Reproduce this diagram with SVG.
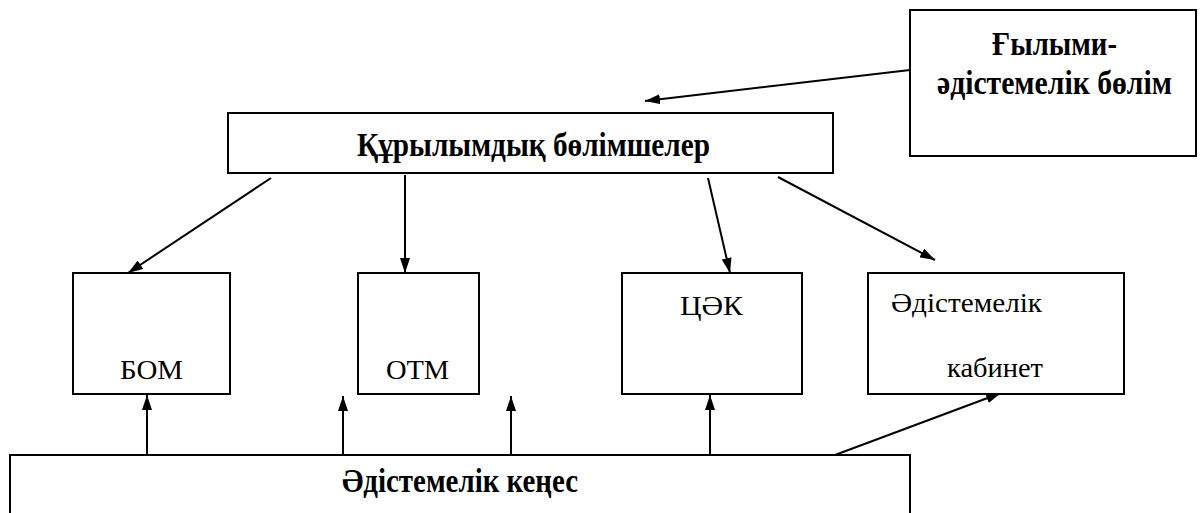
<svg xmlns="http://www.w3.org/2000/svg" width="1203" height="513" viewBox="0 0 1203 513">
<style>
.box{fill:#fff;stroke:#000;stroke-width:2}
.b{font-family:'Liberation Serif','Times New Roman',serif;font-weight:bold;font-size:33px;fill:#000}
.r{font-family:'Liberation Serif','Times New Roman',serif;font-size:28px;fill:#000}
.c{stroke:#000;stroke-width:2;fill:none;marker-end:url(#ah)}
</style>
<defs>
<marker id="ah" viewBox="0 0 15 10" refX="15" refY="5" markerWidth="7.5" markerHeight="5" markerUnits="strokeWidth" orient="auto">
<path d="M0,0 L15,5 L0,10 Z" fill="#000"/>
</marker>
</defs>
<g id="connectors">
<line class="c" x1="910" y1="70" x2="645" y2="101"/>
<line class="c" x1="271" y1="178" x2="128" y2="273"/>
<line class="c" x1="405" y1="175" x2="405" y2="273"/>
<line class="c" x1="708" y1="178" x2="730" y2="273"/>
<line class="c" x1="778" y1="177" x2="935" y2="260"/>
<line class="c" x1="147" y1="455" x2="147" y2="395"/>
<line class="c" x1="343" y1="455" x2="343" y2="396"/>
<line class="c" x1="511" y1="455" x2="511" y2="396"/>
<line class="c" x1="710" y1="455" x2="710" y2="395"/>
<line class="c" x1="835" y1="455" x2="1001" y2="393"/>
</g>
<g id="ghylymi">
<rect class="box" x="910" y="10" width="286" height="146"/>
<text class="b" x="992" y="55" textLength="125" lengthAdjust="spacingAndGlyphs">Ғылыми-</text>
<text class="b" x="937" y="94" textLength="235" lengthAdjust="spacingAndGlyphs">әдістемелік бөлім</text>
</g>
<g id="qurylymdyq">
<rect class="box" x="228" y="113" width="605" height="60"/>
<text class="b" x="357" y="156" textLength="353" lengthAdjust="spacingAndGlyphs">Құрылымдық бөлімшелер</text>
</g>
<g id="bom">
<rect class="box" x="73" y="273" width="157" height="121"/>
<text class="r" x="120" y="379" textLength="63" lengthAdjust="spacingAndGlyphs">БОМ</text>
</g>
<g id="otm">
<rect class="box" x="358" y="273" width="121" height="121"/>
<text class="r" x="386" y="379" textLength="63" lengthAdjust="spacingAndGlyphs">ОТМ</text>
</g>
<g id="tsak">
<rect class="box" x="622" y="273" width="180" height="121"/>
<text class="r" x="680" y="315" textLength="63" lengthAdjust="spacingAndGlyphs">ЦӘК</text>
</g>
<g id="kabinet">
<rect class="box" x="868" y="273" width="256" height="121"/>
<text class="r" x="891" y="312" textLength="151" lengthAdjust="spacingAndGlyphs">Әдістемелік</text>
<text class="r" x="947" y="377" textLength="96" lengthAdjust="spacingAndGlyphs">кабинет</text>
</g>
<g id="kenes">
<rect class="box" x="10" y="455" width="900" height="70"/>
<text class="b" x="342" y="492" textLength="236" lengthAdjust="spacingAndGlyphs">Әдістемелік кеңес</text>
</g>
</svg>
